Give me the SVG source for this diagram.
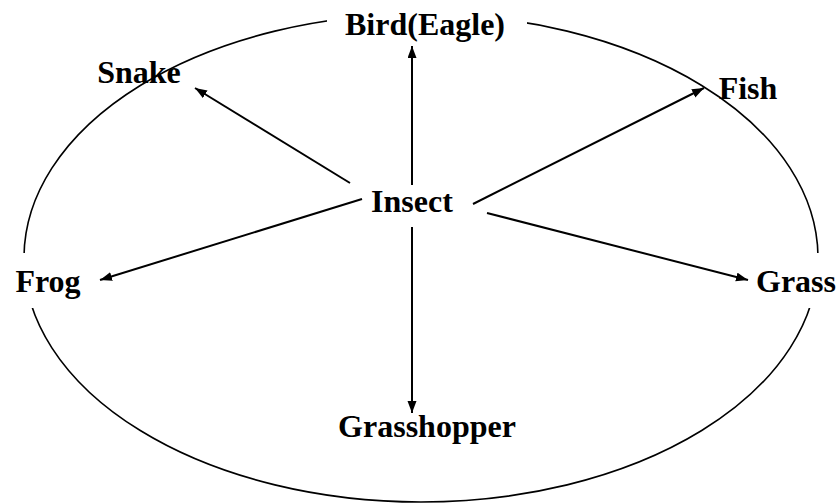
<svg xmlns="http://www.w3.org/2000/svg" width="838" height="504" viewBox="0 0 838 504">
  <style>
    .lbl { font-family: "Liberation Serif", "Times New Roman", serif; font-weight: bold; font-size: 32px; fill: #000; text-anchor: middle; }
    .conn { stroke: #000; stroke-width: 2; fill: none; marker-end: url(#arr); }
    .mask { fill: #fff; stroke: none; }
  </style>
  <defs>
    <marker id="arr" markerUnits="userSpaceOnUse" markerWidth="13" markerHeight="10" refX="12" refY="4.5" orient="auto">
      <path d="M0,0 L12,4.5 L0,9 z" fill="#000"/>
    </marker>
  </defs>
  <rect width="838" height="504" fill="#fff"/>
  <g id="cycle">
    <ellipse cx="421" cy="258" rx="397" ry="244" fill="none" stroke="#000" stroke-width="1.6"/>
  </g>
  <g id="connectors">
    <line class="conn" x1="412" y1="185" x2="412" y2="46"/>
    <line class="conn" x1="412" y1="227" x2="412" y2="413"/>
    <line class="conn" x1="350" y1="183" x2="195" y2="88"/>
    <line class="conn" x1="362" y1="199" x2="100" y2="280"/>
    <line class="conn" x1="473" y1="204" x2="704" y2="88"/>
    <line class="conn" x1="487" y1="213" x2="748" y2="280"/>
  </g>
  <g id="bird">
    <rect class="mask" x="327" y="0" width="200" height="40"/>
    <text class="lbl" x="425" y="35">Bird(Eagle)</text>
  </g>
  <g id="snake">
    <text class="lbl" x="139" y="83">Snake</text>
  </g>
  <g id="fish">
    <text class="lbl" x="748" y="99">Fish</text>
  </g>
  <g id="insect">
    <text class="lbl" x="412" y="212">Insect</text>
  </g>
  <g id="frog">
    <rect class="mask" x="0" y="253" width="92" height="55"/>
    <text class="lbl" x="48" y="292">Frog</text>
  </g>
  <g id="grass">
    <rect class="mask" x="752" y="253" width="86" height="55"/>
    <text class="lbl" x="796" y="292">Grass</text>
  </g>
  <g id="grasshopper">
    <text class="lbl" x="427" y="437">Grasshopper</text>
  </g>
</svg>
